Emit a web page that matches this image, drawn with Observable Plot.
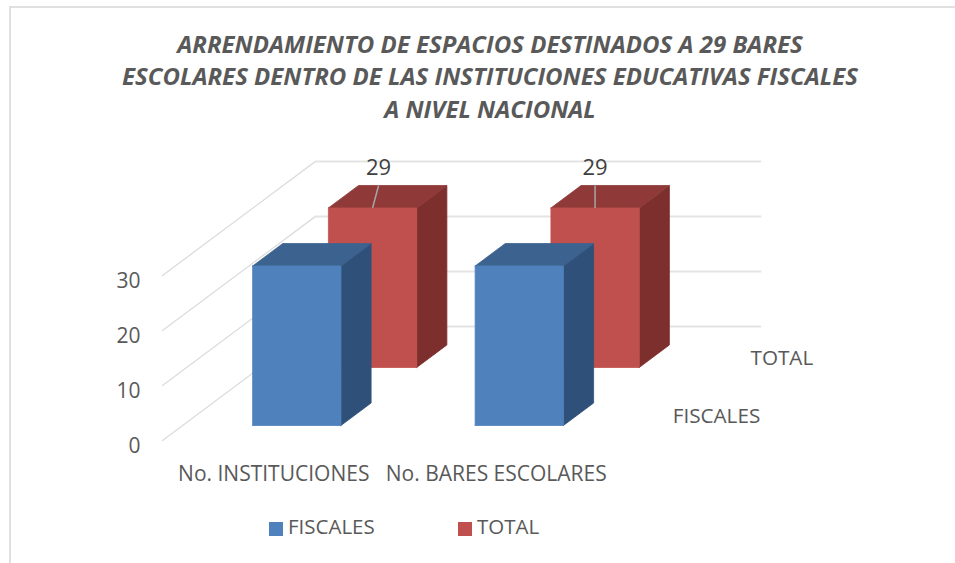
<!DOCTYPE html>
<html>
<head>
<meta charset="utf-8">
<script src="https://cdn.jsdelivr.net/npm/d3@7"></script>
<script src="https://cdn.jsdelivr.net/npm/@observablehq/plot@0.6"></script>
<style>
  html, body { margin: 0; padding: 0; background: #fff; }
  #page { position: relative; width: 955px; height: 563px; overflow: hidden; font-family: "Open Sans", sans-serif; color: #595959; }
  #frame { position: absolute; left: 9px; top: 6px; width: 960px; height: 570px; border: 2px solid #e0e0e0; box-sizing: border-box; }
  #title { position: absolute; left: 0; top: 27.5px; width: 980px; text-align: center; font-weight: 700; font-style: italic; font-size: 24px; line-height: 32.5px; color: #595959; }
  #chart { position: absolute; left: 0; top: 140px; }
  #legend { position: absolute; left: 0; top: 511px; width: 955px; height: 30px; font-size: 20.5px; line-height: 30px; }
  #legend span { position: absolute; top: 0; white-space: nowrap; }
  #legend i { position: absolute; top: 11px; width: 14px; height: 14px; }
</style>
</head>
<body>
<div id="page">
  <div id="frame"></div>
  <div id="title"></div>
  <div id="chart"></div>
  <div id="legend"></div>
</div>
<script>
const titleLines = [
  "ARRENDAMIENTO DE ESPACIOS DESTINADOS A 29 BARES",
  "ESCOLARES DENTRO DE LAS INSTITUCIONES EDUCATIVAS FISCALES",
  "A NIVEL NACIONAL"
];
const categories = ["No. INSTITUCIONES", "No. BARES ESCOLARES"];
const seriesNames = ["FISCALES", "TOTAL"];
const fiscales = [29, 29];
const total = [29, 29];
const yTicks = [0, 10, 20, 30];

// Colours of each series: front, side and top faces
const seriesColors = [
  {front: "#4f81bd", side: "#2f5179", top: "#3c628f"},
  {front: "#c0504d", side: "#7c2f2d", top: "#8f3a38"}
];

// Oblique projection: a depth of 1 moves a point right and up along the floor
const kx = 0.6876, kv = 20.75;
const px = (u, d) => u + d * kx;
const pv = (v, d) => v + d * kv;

const barStart = 0.3146, barWidth = 0.397;
const seriesShift = [0, -0.009];
const depthFront = [0.1316, 0.64], depthSize = 0.197;

const poly = (pts, fill, edge) => Plot.line(pts, {
  x: p => px(p[0], p[2]), y: p => pv(p[1], p[2]),
  fill, stroke: edge ?? fill, strokeWidth: 0.8, curve: "linear"
});

function barFaces(catIndex, value, s) {
  const u0 = catIndex + barStart + seriesShift[s], u1 = u0 + barWidth;
  const d0 = depthFront[s], d1 = d0 + depthSize;
  const c = seriesColors[s];
  return [
    poly([[u1,0,d0],[u1,0,d1],[u1,value,d1],[u1,value,d0],[u1,0,d0]], c.side),
    poly([[u0,value,d0],[u1,value,d0],[u1,value,d1],[u0,value,d1],[u0,value,d0]], c.top),
    poly([[u0,0,d0],[u1,0,d0],[u1,value,d0],[u0,value,d0],[u0,0,d0]], c.front)
  ];
}

const gridMarks = yTicks.flatMap(t => [
  Plot.line([[0,t,0],[0,t,1]], {x: p => px(p[0],p[2]), y: p => pv(p[1],p[2]), stroke: "#dcdcdc", strokeWidth: 1.3}),
  Plot.line([[0,t,1],[2,t,1]], {x: p => px(p[0],p[2]), y: p => pv(p[1],p[2]), stroke: "#e4e4e4", strokeWidth: 2})
]);

// Leader lines and data labels on the rear series
const leaderLean = [0.027, 0];
const labelData = total.map((v, i) => ({
  i, v,
  x0: px(i + barStart + seriesShift[1] + barWidth / 2, depthFront[1]),
  x1: px(i + barStart + seriesShift[1] + barWidth / 2, depthFront[1] + depthSize) - kx * depthSize + leaderLean[i],
  y0: pv(v, depthFront[1]),
  y1: pv(v, depthFront[1] + depthSize)
}));

const chart = Plot.plot({
  width: 955,
  height: 360,
  marginLeft: 162,
  marginRight: 195,
  marginTop: 20.5,
  marginBottom: 60,
  style: {background: "transparent", overflow: "visible"},
  x: {domain: [0, 2 + kx], axis: null},
  y: {domain: [0, 30 + kv + 0.07], axis: null},
  marks: [
    ...gridMarks,
    ...total.flatMap((v, i) => barFaces(i, v, 1)),
    Plot.link(labelData, {x1: "x0", y1: "y0", x2: "x1", y2: "y1", stroke: "#a6a6a6", strokeWidth: 1.5}),
    Plot.text(labelData, {x: "x1", y: "y1", text: d => String(d.v), dy: -18, fontSize: 22, fill: "#404040", fontFamily: "Open Sans"}),
    ...fiscales.flatMap((v, i) => barFaces(i, v, 0)),
    Plot.axisY({ticks: yTicks, tickSize: 0, tickPadding: 22, fontSize: 21, color: "#595959", fontFamily: "Open Sans", label: null, dy: 6}),
    Plot.axisX({ticks: [0.5, 1.5], tickFormat: t => categories[Math.floor(t)], tickSize: 0, tickPadding: 26, fontSize: 21, color: "#595959", fontFamily: "Open Sans", label: null}),
    Plot.text(seriesNames, {
      x: (d, i) => 2 + (depthFront[i] + depthSize / 2) * kx,
      y: (d, i) => (depthFront[i] + depthSize / 2) * kv,
      text: d => d, textAnchor: "start", dx: (31 + 29) / 2, dy: 2.5, fontSize: 20.7, fill: "#595959", fontFamily: "Open Sans"
    })
  ]
});
document.getElementById("chart").appendChild(chart);

document.getElementById("title").innerHTML = titleLines.join("<br>");

const legendX = [269, 458];
const legend = document.getElementById("legend");
seriesNames.forEach((name, i) => {
  const sw = document.createElement("i");
  sw.style.left = legendX[i] + "px";
  sw.style.background = seriesColors[i].front;
  legend.appendChild(sw);
  const t = document.createElement("span");
  t.style.left = (legendX[i] + 19) + "px";
  t.textContent = name;
  legend.appendChild(t);
});
</script>
</body>
</html>
